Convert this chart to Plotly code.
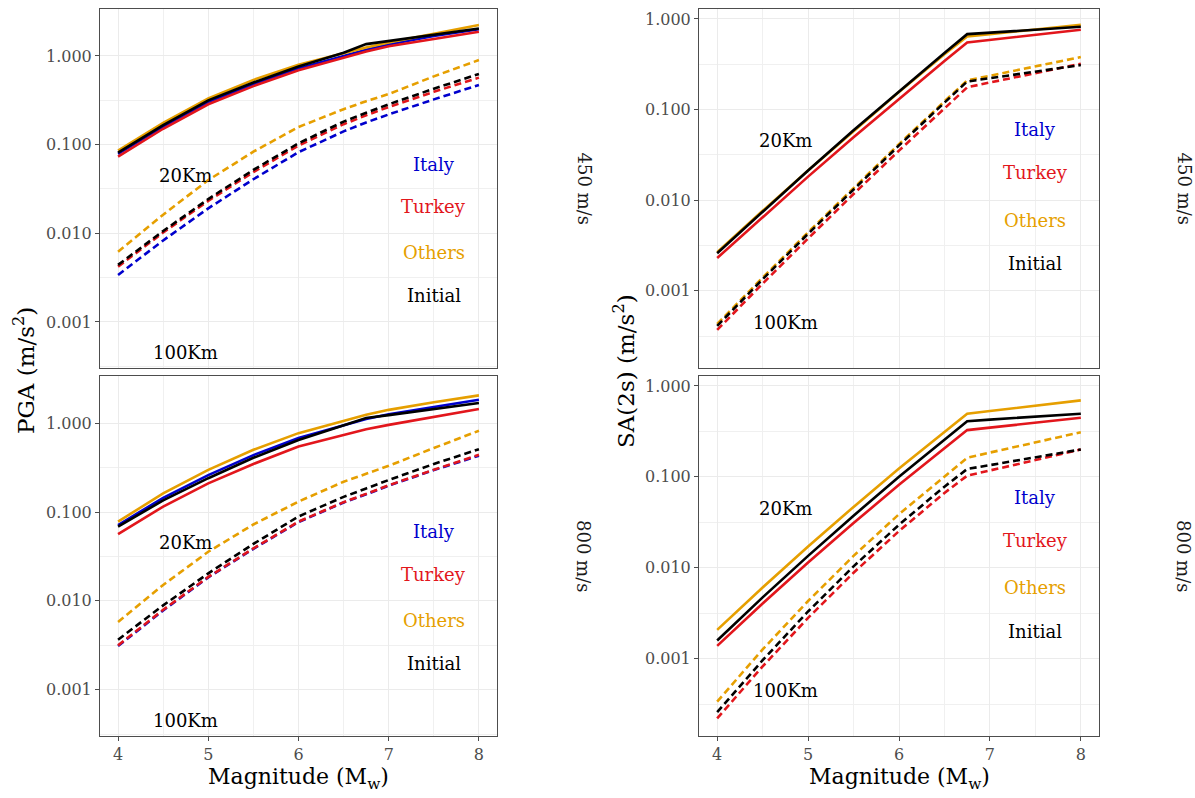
import numpy as np
import plotly.graph_objects as go

# ---------------- data ----------------
magnitude = [4, 4.5, 5, 5.5, 6, 6.5, 6.75, 7, 7.5, 8]
models = ["Italy", "Turkey", "Others", "Initial"]

# PGA, Vs30 = 450 m/s
pga450_20_italy = [0.0785, 0.160, 0.302, 0.479, 0.724, 1.01, 1.175, 1.35, 1.68, 2.00]
pga450_20_turkey = [0.0733, 0.151, 0.285, 0.457, 0.692, 0.966, 1.122, 1.288, 1.549, 1.88]
pga450_20_others = [0.0855, 0.176, 0.331, 0.537, 0.794, 1.084, 1.245, 1.42, 1.80, 2.24]
pga450_20_initial = [0.0813, 0.166, 0.316, 0.501, 0.759, 1.09, 1.36, 1.48, 1.75, 2.04]
pga450_100_italy = [0.00339, 0.0083, 0.0191, 0.0407, 0.0822, 0.141, 0.178, 0.219, 0.324, 0.471]
pga450_100_turkey = [0.0042, 0.0102, 0.0232, 0.049, 0.0977, 0.170, 0.214, 0.266, 0.394, 0.570]
pga450_100_others = [0.0062, 0.0162, 0.0398, 0.0832, 0.158, 0.251, 0.309, 0.372, 0.589, 0.90]
pga450_100_initial = [0.0044, 0.0106, 0.0243, 0.0519, 0.1035, 0.182, 0.229, 0.285, 0.427, 0.627]

# PGA, Vs30 = 800 m/s
pga800_20_italy = [0.0713, 0.1445, 0.26, 0.436, 0.679, 0.955, 1.11, 1.26, 1.53, 1.83]
pga800_20_turkey = [0.0565, 0.115, 0.21, 0.347, 0.546, 0.741, 0.851, 0.955, 1.175, 1.44]
pga800_20_others = [0.0778, 0.162, 0.298, 0.501, 0.771, 1.072, 1.24, 1.41, 1.72, 2.05]
pga800_20_initial = [0.0684, 0.135, 0.24, 0.407, 0.646, 0.933, 1.14, 1.23, 1.445, 1.68]
pga800_100_italy = [0.0031, 0.0078, 0.0184, 0.0385, 0.077, 0.128, 0.158, 0.198, 0.296, 0.43]
pga800_100_turkey = [0.00316, 0.00794, 0.0186, 0.0389, 0.078, 0.129, 0.160, 0.200, 0.299, 0.44]
pga800_100_others = [0.0058, 0.0151, 0.0357, 0.0724, 0.131, 0.219, 0.269, 0.331, 0.525, 0.82]
pga800_100_initial = [0.00366, 0.0089, 0.0204, 0.0437, 0.0891, 0.148, 0.184, 0.229, 0.347, 0.509]

# SA(2s), Vs30 = 450 m/s
sa450_20_turkey = [0.0023, 0.00654, 0.0182, 0.0496, 0.132, 0.344, 0.55, 0.586, 0.667, 0.76]
sa450_20_others = [0.00266, 0.00763, 0.0213, 0.0584, 0.1565, 0.409, 0.64, 0.68, 0.76, 0.86]
sa450_20_initial = [0.0026, 0.00752, 0.0213, 0.0590, 0.159, 0.421, 0.68, 0.705, 0.76, 0.82]
sa450_100_turkey = [0.00037, 0.0012, 0.00378, 0.0117, 0.0352, 0.1036, 0.176, 0.199, 0.252, 0.32]
sa450_100_others = [0.00043, 0.0014, 0.00443, 0.0137, 0.0416, 0.1232, 0.21, 0.236, 0.30, 0.38]
sa450_100_initial = [0.00041, 0.00134, 0.00426, 0.0132, 0.0402, 0.1193, 0.204, 0.222, 0.262, 0.31]

# SA(2s), Vs30 = 800 m/s
sa800_20_turkey = [0.00138, 0.00404, 0.0114, 0.031, 0.0817, 0.208, 0.327, 0.348, 0.395, 0.448]
sa800_20_others = [0.00207, 0.00606, 0.0171, 0.0467, 0.1233, 0.3145, 0.495, 0.53, 0.607, 0.695]
sa800_20_initial = [0.00158, 0.00471, 0.0135, 0.0374, 0.1002, 0.259, 0.41, 0.427, 0.459, 0.495]
sa800_100_turkey = [0.00022, 0.00082, 0.0028, 0.0088, 0.0253, 0.0665, 0.103, 0.117, 0.153, 0.20]
sa800_100_others = [0.000336, 0.00126, 0.0043, 0.0135, 0.0388, 0.102, 0.162, 0.185, 0.24, 0.31]
sa800_100_initial = [0.000257, 0.00096, 0.0033, 0.01035, 0.0297, 0.078, 0.122, 0.135, 0.165, 0.20]

# text label positions (data coordinates)
label_x = 7.5
label_y = [0.06, 0.02, 0.006, 0.002]
dist_labels = ["20Km", "100Km"]
dist_x = 4.75
dist_y = [0.045, 0.00045]
y_ticks = [0.001, 0.01, 0.1, 1]
y_ticktext = ["0.001", "0.010", "0.100", "1.000"]
x_ticks = [4, 5, 6, 7, 8]
strip_labels = ["450 m/s", "800 m/s"]

colors = {"Italy": "#0000CD", "Turkey": "#E2161C", "Others": "#E69F00", "Initial": "#000000"}

panels = [
    ("x", "y", {
        "Italy": (pga450_20_italy, pga450_100_italy),
        "Turkey": (pga450_20_turkey, pga450_100_turkey),
        "Others": (pga450_20_others, pga450_100_others),
        "Initial": (pga450_20_initial, pga450_100_initial)}),
    ("x2", "y2", {
        "Turkey": (sa450_20_turkey, sa450_100_turkey),
        "Others": (sa450_20_others, sa450_100_others),
        "Initial": (sa450_20_initial, sa450_100_initial)}),
    ("x3", "y3", {
        "Italy": (pga800_20_italy, pga800_100_italy),
        "Turkey": (pga800_20_turkey, pga800_100_turkey),
        "Others": (pga800_20_others, pga800_100_others),
        "Initial": (pga800_20_initial, pga800_100_initial)}),
    ("x4", "y4", {
        "Turkey": (sa800_20_turkey, sa800_100_turkey),
        "Others": (sa800_20_others, sa800_100_others),
        "Initial": (sa800_20_initial, sa800_100_initial)}),
]

FONT = "DejaVu Serif"
W, H = 1195, 798

fig = go.Figure()
for xa, ya, series in panels:
    for dash in ("solid", "dash"):
        for m in models:
            if m not in series:
                continue
            vals = series[m][0] if dash == "solid" else series[m][1]
            fig.add_trace(go.Scatter(
                x=magnitude, y=vals, mode="lines", xaxis=xa, yaxis=ya,
                line=dict(color=colors[m], width=2.6,
                          dash="solid" if dash == "solid" else "7px,4px"),
                showlegend=False, hoverinfo="skip"))

def px_x(p):
    return p / W

def px_y(p):
    return 1 - p / H

xdom_left = [px_x(100), px_x(497)]
xdom_right = [px_x(699), px_x(1099)]
ydom_top = [px_y(368), px_y(9)]
ydom_bot = [px_y(736), px_y(376)]

common_axis = dict(showline=True, mirror=True, linecolor="#4D4D4D", linewidth=1,
                   showgrid=True, gridcolor="#EBEBEB", gridwidth=1, zeroline=False,
                   ticks="outside", ticklen=4, tickcolor="#4D4D4D", tickwidth=1,
                   tickfont=dict(family=FONT, size=16, color="#4D4D4D"))

def xaxis(dom, anchor, show):
    d = dict(common_axis)
    d.update(domain=dom, anchor=anchor, range=[3.8, 8.2], tickvals=x_ticks,
             minor=dict(tickvals=[4.5, 5.5, 6.5, 7.5], showgrid=True,
                        gridcolor="#F0F0F0", gridwidth=1, ticks=""))
    if not show:
        d.update(showticklabels=False, ticks="")
    return d

def yaxis(dom, anchor, rng):
    d = dict(common_axis)
    d.update(domain=dom, anchor=anchor, type="log", range=rng, tickvals=y_ticks,
             ticktext=y_ticktext,
             minor=dict(tickvals=[10 ** -3.5, 10 ** -2.5, 10 ** -1.5, 10 ** -0.5],
                        showgrid=True, gridcolor="#F0F0F0", gridwidth=1, ticks=""))
    return d

left_rng = [-3.52, 0.53]
right_rng = [-3.852, 0.11]

fig.update_layout(
    width=W, height=H, margin=dict(l=0, r=0, t=0, b=0),
    paper_bgcolor="white", plot_bgcolor="white",
    xaxis=xaxis(xdom_left, "y", False), yaxis=yaxis(ydom_top, "x", left_rng),
    xaxis2=xaxis(xdom_right, "y2", False), yaxis2=yaxis(ydom_top, "x2", right_rng),
    xaxis3=xaxis(xdom_left, "y3", True), yaxis3=yaxis(ydom_bot, "x3", left_rng),
    xaxis4=xaxis(xdom_right, "y4", True), yaxis4=yaxis(ydom_bot, "x4", right_rng),
    showlegend=False,
)

annotations = []
for xa, ya, _ in panels:
    for m, yv in zip(models, label_y):
        annotations.append(dict(x=label_x, y=np.log10(yv), xref=xa, yref=ya, text=m,
                                xanchor="center", yanchor="middle", showarrow=False,
                                font=dict(family=FONT, size=18, color=colors[m])))
    for t, yv in zip(dist_labels, dist_y):
        annotations.append(dict(x=dist_x, y=np.log10(yv), xref=xa, yref=ya, text=t,
                                xanchor="center", yanchor="middle", showarrow=False,
                                font=dict(family=FONT, size=18, color="black")))

# strip labels
for xpos in (584, 1184):
    for lab, ypos in zip(strip_labels, (188.5, 556)):
        annotations.append(dict(x=px_x(xpos), y=px_y(ypos), xref="paper", yref="paper",
                                text=lab, textangle=90, showarrow=False,
                                xanchor="center", yanchor="middle",
                                font=dict(family=FONT, size=18, color="#1A1A1A")))

# axis titles
for xpos in (298.5, 899):
    annotations.append(dict(x=px_x(xpos), y=px_y(778), xref="paper", yref="paper",
                            text="Magnitude (M<sub>w</sub>)", showarrow=False,
                            xanchor="center", yanchor="middle",
                            font=dict(family=FONT, size=22, color="black")))
annotations.append(dict(x=px_x(24), y=px_y(371), xref="paper", yref="paper",
                        text="PGA (m/s<sup>2</sup>)", textangle=-90, showarrow=False,
                        xanchor="center", yanchor="middle",
                        font=dict(family=FONT, size=23, color="black")))
annotations.append(dict(x=px_x(624), y=px_y(371), xref="paper", yref="paper",
                        text="SA(2s) (m/s<sup>2</sup>)", textangle=-90, showarrow=False,
                        xanchor="center", yanchor="middle",
                        font=dict(family=FONT, size=23, color="black")))

fig.update_layout(annotations=annotations)
fig.write_html("out.html")
